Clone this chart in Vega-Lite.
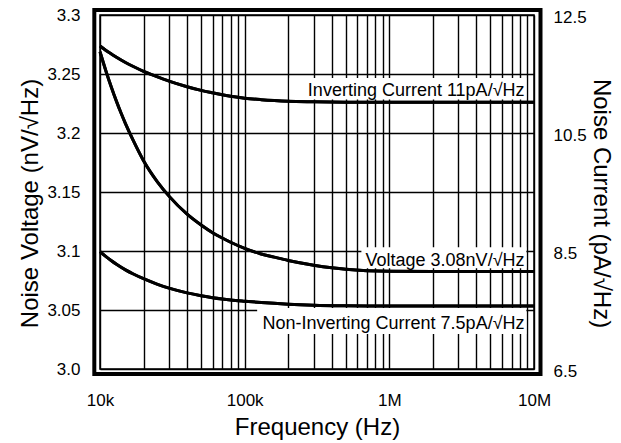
{
  "$schema": "https://vega.github.io/schema/vega-lite/v6.json",
  "width": 434,
  "height": 354,
  "autosize": "none",
  "padding": {"left": 100, "top": 15, "right": 87, "bottom": 74},
  "background": "white",
  "config": {
    "view": {"stroke": "#000", "strokeWidth": 1.5},
    "font": "Liberation Sans",
    "axis": {
      "labelFont": "Liberation Sans",
      "titleFont": "Liberation Sans",
      "labelFontSize": 17,
      "titleFontSize": 24,
      "titleFontWeight": "normal",
      "labelColor": "#000",
      "titleColor": "#000",
      "ticks": false,
      "domain": false,
      "gridColor": "#000",
      "gridWidth": 1.4,
      "gridOpacity": 1,
      "labelOverlap": false
    }
  },
  "datasets": {
    "voltage": [
      {"f": 10000, "v": 3.2689},
      {"f": 11000, "v": 3.2524},
      {"f": 12000, "v": 3.2386},
      {"f": 13000, "v": 3.2268},
      {"f": 14000, "v": 3.2167},
      {"f": 15000, "v": 3.2080},
      {"f": 17000, "v": 3.1935},
      {"f": 20000, "v": 3.1765},
      {"f": 25000, "v": 3.1584},
      {"f": 30000, "v": 3.1465},
      {"f": 40000, "v": 3.1312},
      {"f": 50000, "v": 3.1220},
      {"f": 60000, "v": 3.1155},
      {"f": 70000, "v": 3.1110},
      {"f": 80000, "v": 3.1074},
      {"f": 100000, "v": 3.1022},
      {"f": 130000, "v": 3.0975},
      {"f": 160000, "v": 3.0948},
      {"f": 200000, "v": 3.0920},
      {"f": 300000, "v": 3.0880},
      {"f": 400000, "v": 3.0858},
      {"f": 500000, "v": 3.0845},
      {"f": 700000, "v": 3.0833},
      {"f": 1000000, "v": 3.0828},
      {"f": 2000000, "v": 3.0826},
      {"f": 10000000, "v": 3.0826}
    ],
    "current": [
      {"series": "Inverting", "f": 10000, "c": 11.975},
      {"series": "Inverting", "f": 11000, "c": 11.90},
      {"series": "Inverting", "f": 12000, "c": 11.838},
      {"series": "Inverting", "f": 13000, "c": 11.783},
      {"series": "Inverting", "f": 15000, "c": 11.695},
      {"series": "Inverting", "f": 17000, "c": 11.627},
      {"series": "Inverting", "f": 20000, "c": 11.545},
      {"series": "Inverting", "f": 25000, "c": 11.452},
      {"series": "Inverting", "f": 30000, "c": 11.38},
      {"series": "Inverting", "f": 40000, "c": 11.285},
      {"series": "Inverting", "f": 50000, "c": 11.222},
      {"series": "Inverting", "f": 60000, "c": 11.18},
      {"series": "Inverting", "f": 70000, "c": 11.147},
      {"series": "Inverting", "f": 80000, "c": 11.123},
      {"series": "Inverting", "f": 100000, "c": 11.09},
      {"series": "Inverting", "f": 130000, "c": 11.065},
      {"series": "Inverting", "f": 160000, "c": 11.05},
      {"series": "Inverting", "f": 200000, "c": 11.038},
      {"series": "Inverting", "f": 300000, "c": 11.029},
      {"series": "Inverting", "f": 500000, "c": 11.022},
      {"series": "Inverting", "f": 1000000, "c": 11.02},
      {"series": "Inverting", "f": 10000000, "c": 11.02},
      {"series": "Non-Inverting", "f": 10000, "c": 8.488},
      {"series": "Non-Inverting", "f": 11000, "c": 8.405},
      {"series": "Non-Inverting", "f": 12000, "c": 8.335},
      {"series": "Non-Inverting", "f": 13000, "c": 8.275},
      {"series": "Non-Inverting", "f": 15000, "c": 8.18},
      {"series": "Non-Inverting", "f": 17000, "c": 8.11},
      {"series": "Non-Inverting", "f": 20000, "c": 8.03},
      {"series": "Non-Inverting", "f": 25000, "c": 7.935},
      {"series": "Non-Inverting", "f": 30000, "c": 7.87},
      {"series": "Non-Inverting", "f": 40000, "c": 7.79},
      {"series": "Non-Inverting", "f": 50000, "c": 7.742},
      {"series": "Non-Inverting", "f": 60000, "c": 7.709},
      {"series": "Non-Inverting", "f": 70000, "c": 7.687},
      {"series": "Non-Inverting", "f": 80000, "c": 7.671},
      {"series": "Non-Inverting", "f": 100000, "c": 7.65},
      {"series": "Non-Inverting", "f": 130000, "c": 7.628},
      {"series": "Non-Inverting", "f": 160000, "c": 7.613},
      {"series": "Non-Inverting", "f": 200000, "c": 7.598},
      {"series": "Non-Inverting", "f": 300000, "c": 7.58},
      {"series": "Non-Inverting", "f": 500000, "c": 7.57},
      {"series": "Non-Inverting", "f": 700000, "c": 7.567},
      {"series": "Non-Inverting", "f": 10000000, "c": 7.566}
    ]
  },
  "layer": [
    {
      "layer": [
        {
          "data": {"name": "voltage"},
          "mark": {"type": "line", "color": "#000", "strokeWidth": 3, "interpolate": "monotone"},
          "encoding": {
            "x": {
              "field": "f",
              "type": "quantitative",
              "scale": {"type": "log", "domain": [10000, 10000000], "nice": false},
              "axis": {
                "values": [10000, 20000, 30000, 40000, 50000, 60000, 70000, 80000, 90000, 100000, 200000, 300000, 400000, 500000, 600000, 700000, 800000, 900000, 1000000, 2000000, 3000000, 4000000, 5000000, 6000000, 7000000, 8000000, 9000000, 10000000],
                "labelExpr": "datum.value == 10000 ? '10k' : datum.value == 100000 ? '100k' : datum.value == 1000000 ? '1M' : datum.value == 10000000 ? '10M' : ''",
                "labelFlush": false,
                "labelBaseline": "alphabetic",
                "labelPadding": 36,
                "grid": true,
                "title": "Frequency (Hz)",
                "titleBaseline": "alphabetic",
                "titleY": 65
              }
            },
            "y": {
              "field": "v",
              "type": "quantitative",
              "scale": {"domain": [3.0, 3.3], "nice": false, "zero": false},
              "axis": {
                "orient": "left",
                "values": [3.0, 3.05, 3.1, 3.15, 3.2, 3.25, 3.3],
                "labelExpr": "datum.value < 3.01 ? '3.0' : format(datum.value, '.2~f')",
                "labelPadding": 20,
                "grid": true,
                "title": "Noise Voltage (nV/√Hz)",
                "titleAngle": -90,
                "titleX": -63,
                "titleY": 188,
                "titleBaseline": "alphabetic",
                "titleAlign": "center"
              }
            }
          }
        },
        {
          "data": {"values": [{"t": "frame"}]},
          "mark": {"type": "rect", "filled": false, "stroke": "#000", "strokeWidth": 4},
          "encoding": {
            "x": {"datum": 9135, "type": "quantitative"},
            "x2": {"datum": 11090000},
            "y": {"datum": 3.3042, "type": "quantitative"},
            "y2": {"datum": 2.9958}
          }
        },
        {
          "data": {"values": [{"t": "Voltage 3.08nV/√Hz"}]},
          "mark": {"type": "rect", "fill": "white", "strokeWidth": 0},
          "encoding": {
            "x": {"datum": 641000, "type": "quantitative"},
            "x2": {"datum": 8850000},
            "y": {"datum": 3.1031, "type": "quantitative"},
            "y2": {"datum": 3.0853}
          }
        },
        {
          "data": {"values": [{"t": "Voltage 3.08nV/√Hz"}]},
          "mark": {"type": "text", "align": "right", "baseline": "alphabetic", "fontSize": 18, "font": "Liberation Sans", "color": "#000"},
          "encoding": {
            "x": {"datum": 8600000, "type": "quantitative"},
            "y": {"datum": 3.0873, "type": "quantitative"},
            "text": {"field": "t"}
          }
        },
        {
          "data": {"name": "voltage"},
          "mark": {"type": "line", "color": "#000", "strokeWidth": 3, "interpolate": "monotone"},
          "encoding": {
            "x": {"field": "f", "type": "quantitative"},
            "y": {"field": "v", "type": "quantitative"}
          }
        }
      ]
    },
    {
      "layer": [
        {
          "data": {"name": "current"},
          "mark": {"type": "line", "color": "#000", "strokeWidth": 3, "interpolate": "monotone"},
          "encoding": {
            "detail": {"field": "series", "type": "nominal"},
            "x": {"field": "f", "type": "quantitative"},
            "y": {
              "field": "c",
              "type": "quantitative",
              "scale": {"domain": [6.5, 12.5], "nice": false, "zero": false},
              "axis": {
                "orient": "right",
                "values": [6.5, 8.5, 10.5, 12.5],
                "format": ".1f",
                "labelPadding": 19,
                "labelOffset": 2,
                "grid": false,
                "title": "Noise Current (pA/√Hz)",
                "titleAngle": 90,
                "titleX": 59,
                "titleY": 188,
                "titleBaseline": "alphabetic",
                "titleAlign": "center"
              }
            }
          }
        },
        {
          "data": {"values": [{"t": "Inverting Current 11pA/√Hz"}]},
          "mark": {"type": "rect", "fill": "white", "strokeWidth": 0},
          "encoding": {
            "x": {"datum": 204300, "type": "quantitative"},
            "x2": {"datum": 8850000},
            "y": {"datum": 11.432, "type": "quantitative"},
            "y2": {"datum": 11.068}
          }
        },
        {
          "data": {"values": [{"t": "Non-Inverting Current 7.5pA/√Hz"}]},
          "mark": {"type": "rect", "fill": "white", "strokeWidth": 0},
          "encoding": {
            "x": {"datum": 122000, "type": "quantitative"},
            "x2": {"datum": 8850000},
            "y": {"datum": 7.534, "type": "quantitative"},
            "y2": {"datum": 7.093}
          }
        },
        {
          "data": {"values": [{"t": "Inverting Current 11pA/√Hz"}]},
          "mark": {"type": "text", "align": "right", "baseline": "alphabetic", "fontSize": 18, "font": "Liberation Sans", "color": "#000"},
          "encoding": {
            "x": {"datum": 8600000, "type": "quantitative"},
            "y": {"datum": 11.127, "type": "quantitative"},
            "text": {"field": "t"}
          }
        },
        {
          "data": {"values": [{"t": "Non-Inverting Current 7.5pA/√Hz"}]},
          "mark": {"type": "text", "align": "right", "baseline": "alphabetic", "fontSize": 18, "font": "Liberation Sans", "color": "#000"},
          "encoding": {
            "x": {"datum": 8600000, "type": "quantitative"},
            "y": {"datum": 7.178, "type": "quantitative"},
            "text": {"field": "t"}
          }
        },
        {
          "data": {"name": "current"},
          "mark": {"type": "line", "color": "#000", "strokeWidth": 3, "interpolate": "monotone"},
          "encoding": {
            "detail": {"field": "series", "type": "nominal"},
            "x": {"field": "f", "type": "quantitative"},
            "y": {"field": "c", "type": "quantitative"}
          }
        }
      ]
    }
  ],
  "resolve": {"scale": {"y": "independent"}}
}
